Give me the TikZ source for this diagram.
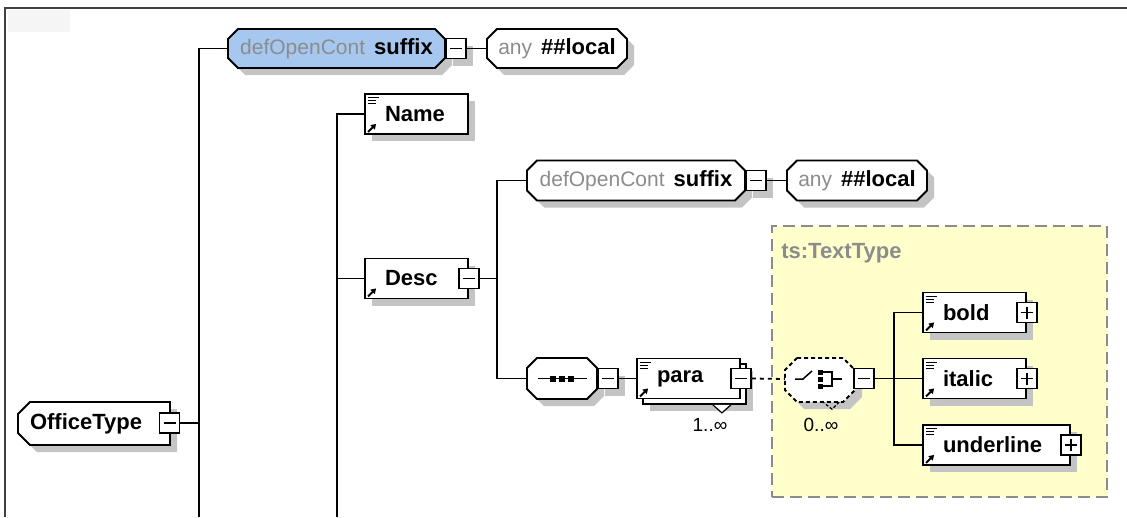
\documentclass[tikz,border=0pt]{standalone}
\usepackage{fontspec}
\setmainfont{Liberation Sans}
\usepackage{xcolor}
\definecolor{xsdblue}{HTML}{A6C8F0}
\definecolor{xsdyellow}{HTML}{FFFFCC}
\definecolor{xsdgrey}{HTML}{8C8C8C}
\definecolor{xsdshade}{HTML}{C4C4C4}
\definecolor{xsdframe}{HTML}{404040}
\usepackage{tikz}
\usetikzlibrary{arrows.meta,positioning,shadows,calc}
\newcommand{\xsdb}{\fontsize{22}{26}\selectfont\bfseries}
\tikzset{
  xsdshadow/.style={drop shadow={shadow xshift=7pt,shadow yshift=-7pt,fill=xsdshade,opacity=1}},
  xsdbox/.style={draw,fill=white,line width=1.8pt,minimum height=40pt,inner xsep=20pt,inner ysep=0pt,text width=#1,align=left,font=\xsdb},
  xsdelem/.style={xsdbox=#1,xsdshadow},
  xsdshape/.style={draw,fill=white,line width=1.8pt,xsdshadow},
  xsdlabel/.style={inner sep=0pt,minimum height=40pt},
  xsdminus/.style={draw,fill=white,line width=1.8pt,minimum size=20pt,inner sep=0pt,
    path picture={\draw[line width=1.6pt] ([xshift=4pt]path picture bounding box.west) -- ([xshift=-4pt]path picture bounding box.east);}},
  xsdplus/.style={draw,fill=white,line width=1.8pt,minimum size=20pt,inner sep=0pt,
    path picture={\draw[line width=1.6pt] ([xshift=4pt]path picture bounding box.west) -- ([xshift=-4pt]path picture bounding box.east)
      ([yshift=-4pt]path picture bounding box.north) -- ([yshift=4pt]path picture bounding box.south);}},
  xsdlink/.style={line width=1.8pt},
  xsdcard/.style={font=\fontsize{19}{22}\selectfont},
}
% octagon: [chamfer]{style}{x}{y}{width}{height}
\newcommand{\xsdoct}[6][10]{%
  \path[#2] ({#3-#5/2+#1},{#4-#6/2}) -- ({#3+#5/2-#1},{#4-#6/2}) -- ({#3+#5/2},{#4-#6/2+#1})
    -- ({#3+#5/2},{#4+#6/2-#1}) -- ({#3+#5/2-#1},{#4+#6/2}) -- ({#3-#5/2+#1},{#4+#6/2})
    -- ({#3-#5/2},{#4+#6/2-#1}) -- ({#3-#5/2},{#4-#6/2+#1}) -- cycle;}
% little marks inside element boxes
\newcommand{\xsdtext}[1]{%
  \draw[line width=1pt] ([xshift=4pt,yshift=-4.5pt]#1.north west) -- ++(11,0)
    ([xshift=4pt,yshift=-7.5pt]#1.north west) -- ++(8,0)
    ([xshift=4pt,yshift=-10.5pt]#1.north west) -- ++(8,0);}
\newcommand{\xsdref}[1]{%
  \draw[line width=1.8pt,-{Triangle[length=5pt,width=6pt]}] ([xshift=4pt,yshift=3pt]#1.south west) -- ++(8,-8);}

\begin{document}
\fontsize{21}{25}\selectfont
\begin{tikzpicture}[x=1pt,y=-1pt]
\useasboundingbox (0,0) rectangle (1127,517);
\fill[black!4] (8,10) rectangle (70,32);
\draw[line width=1.8pt,xsdframe] (5,517) -- (5,8) -- (1127,8);
% ts:TextType area
\node[draw=xsdgrey,fill=xsdyellow,line width=1.8pt,dash pattern=on 12pt off 6pt,minimum width=335pt,minimum height=271pt] (ttype) at (939.5,361.5) {};
\node[font=\xsdb,text=xsdgrey,anchor=west,inner sep=0pt] (ttlabel) at ([xshift=10pt,yshift=-28pt]ttype.north west) {ts:TextType};
% root
\path[xsdshape] (30,402) -- (170,402) -- (170,445) -- (30,445) -- (18,433) -- (18,414) -- cycle;
\node[minimum height=43pt,inner xsep=12pt,inner ysep=0pt,text width=128pt,align=left,font=\xsdb] (office) at (94,423.5) {OfficeType};
\node[xsdminus] (om) at (169.5,423) {};
% open content
\xsdoct{xsdshape,fill=xsdblue}{336.5}{48.5}{217}{39}
\node[xsdlabel,minimum width=217pt] (def1) at (336.5,48.5) {{\color{xsdgrey}defOpenCont}\hspace{9pt}{\xsdb suffix}};
\node[xsdminus,xsdshadow,right=0pt of def1] (d1m) {};
\xsdoct{xsdshape}{557}{48.5}{140}{39}
\node[xsdlabel,minimum width=140pt] (any1) at (557,48.5) {{\color{xsdgrey}any}\hspace{9pt}{\xsdb \#\#local}};
% children
\node[xsdelem=63pt] (name) at (416.5,114) {Name};
\node[xsdelem=63pt] (desc) at (416.5,278.5) {Desc};
\node[xsdminus] (dm) at (desc.east) {};
\xsdoct{xsdshape}{636}{180.5}{218}{40}
\node[xsdlabel,minimum width=218pt] (def2) at (636,180.5) {{\color{xsdgrey}defOpenCont}\hspace{9pt}{\xsdb suffix}};
\node[xsdminus,xsdshadow,right=0pt of def2] (d2m) {};
\xsdoct{xsdshape}{857}{180.5}{140}{40}
\node[xsdlabel,minimum width=140pt] (any2) at (857,180.5) {{\color{xsdgrey}any}\hspace{9pt}{\xsdb \#\#local}};
\xsdoct{xsdshape}{562}{378.5}{70}{41}
\node[xsdlabel,minimum width=70pt] (seq) at (562,378.5) {};
\node[xsdminus,xsdshadow,right=0pt of seq] (sm) {};
\node[xsdelem=63pt] (parab) at (694.5,384) {};
\node[xsdbox=63pt] (para) at (688.5,378.5) {para};
\node[xsdminus] (pm) at (para.east) {};
\node[xsdcard] (pcard) at (710,425) {1..∞};
% choice
\xsdoct[12]{xsdshape,dash pattern=on 4pt off 3pt}{820}{380}{70}{44}
\node[xsdlabel,minimum width=70pt] (choice) at (820,379) {};
\node[xsdminus] (cm) at (864,378.5) {};
\node[xsdcard] (ccard) at (821,425) {0..∞};
\node[xsdelem=63pt] (bold) at (974.5,312.5) {bold};
\node[xsdplus] (bp) at (bold.east) {};
\node[xsdelem=63pt] (italic) at (974.5,378.5) {italic};
\node[xsdplus] (ip) at (italic.east) {};
\node[xsdelem=107pt] (uline) at (996.5,445) {underline};
\node[xsdplus] (up) at (uline.east) {};
% connectors
\coordinate (j1) at (199,517);
\coordinate (j2) at (337,517);
\coordinate (j3) at (497,278.5);
\coordinate (j4) at (894,378.5);
\draw[xsdlink] (def1.west) -| (j1);
\draw[xsdlink] (om.east) -- (om.east -| j1);
\draw[xsdlink] (d1m.east) -- (any1.west);
\draw[xsdlink] (name.west) -| (j2);
\draw[xsdlink] (desc.west) -- (desc.west -| j2);
\draw[xsdlink] (dm.east) -- (j3);
\draw[xsdlink] (def2.west) -| (j3) |- (seq.west);
\draw[xsdlink] (d2m.east) -- (any2.west);
\draw[xsdlink] (sm.east) -- (para.west);
\draw[xsdlink,dash pattern=on 4pt off 4pt] (pm.east) -- (choice.west);
\draw[xsdlink] (cm.east) -- (italic.west);
\draw[xsdlink] (bold.west) -| (j4) |- (uline.west);
% icons
\xsdtext{name}\xsdref{name}
\xsdref{desc}
\xsdtext{para}\xsdref{para}
\xsdtext{bold}\xsdref{bold}
\xsdtext{italic}\xsdref{italic}
\xsdtext{uline}\xsdref{uline}
\filldraw[fill=white,line width=1.2pt] ($(parab.south east)+(-34,0)$) -- ++(9,8) -- ++(9,-8);
\draw[line width=1.5pt] ([xshift=11pt]seq.west) -- ([xshift=-10pt]seq.east);
\foreach \dx in {-9,0,9} \fill ([xshift=\dx pt]seq.center) ++(-3,-3) rectangle ++(6,6);
\draw[line width=1.5pt] ($(choice.center)+(-25,0)$) -- ++(8,0) -- ++(9,-8);
\foreach \dy in {-7,0,7} \fill ($(choice.center)+(0,\dy)$) ++(-2.5,-2.5) rectangle ++(5,5);
\draw[line width=1.5pt] ($(choice.center)+(3,-7)$) -- ++(9,0) -- ++(0,14) -- ++(-9,0)
  ($(choice.center)+(12,0)$) -- ++(10,0);
\draw[line width=1.2pt,dash pattern=on 3pt off 2pt] ($(choice.south)+(2,2)$) -- ++(10,8) -- ++(8,-8);
\end{tikzpicture}
\end{document}
